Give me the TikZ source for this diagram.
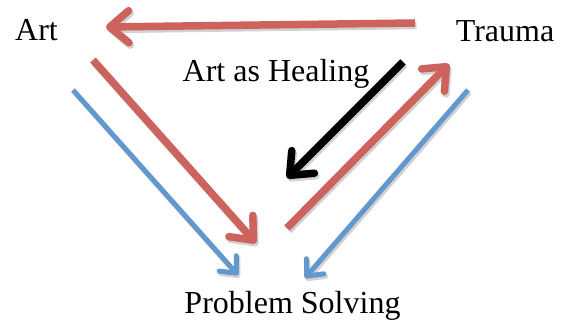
\documentclass[tikz,border=0pt]{standalone}
\usepackage{fontspec}
\setmainfont{Liberation Serif}
\usetikzlibrary{arrows.meta}
\definecolor{redA}{RGB}{204,99,93}
\definecolor{blueA}{RGB}{99,152,206}
\tikzset{
  lbl/.style={inner sep=0pt, anchor=base, font=\fontsize{32}{36}\selectfont},
  thick arrow/.style={line width=7.5pt, line cap=butt,
     -{Straight Barb[length=19pt, width=32pt, line cap=round, line join=round]}},
  thin arrow/.style={line width=5pt, line cap=butt,
     -{Straight Barb[length=13pt, width=23pt, line cap=round, line join=round]}},
  shadow/.style={draw=black, opacity=0.18, transform canvas={shift={(1.5pt,-2.5pt)}}}
}
\begin{document}
\begin{tikzpicture}[x=1pt,y=1pt]
\useasboundingbox (0,0) rectangle (561,321);
% labels
\node[lbl] (art) at (36.5,280) {Art};
\node[lbl] (trauma) at (505,279) {Trauma};
\node[lbl] (heal) at (276,239) {Art as Healing};
\node[lbl] (ps) at (292.5,8) {Problem Solving};
% arrow endpoints
\coordinate (h1) at (415,298); \coordinate (h2) at (106,294);
\coordinate (r1) at (93,261);  \coordinate (r2) at (256,78);
\coordinate (b1) at (73,231);  \coordinate (b2) at (238,46);
\coordinate (k1) at (403,259); \coordinate (k2) at (287,143);
\coordinate (q1) at (287,93);  \coordinate (q2) at (449,257);
\coordinate (c1) at (468,231); \coordinate (c2) at (305,43);
% shadows
\draw[thick arrow, shadow] (h1) -- (h2);
\draw[thick arrow, shadow] (r1) -- (r2);
\draw[thin arrow, shadow] (b1) -- (b2);
\draw[thick arrow, shadow] (k1) -- (k2);
\draw[thick arrow, shadow] (q1) -- (q2);
\draw[thin arrow, shadow] (c1) -- (c2);
% arrows
\draw[thick arrow, draw=redA] (h1) -- (h2);
\draw[thick arrow, draw=redA] (r1) -- (r2);
\draw[thin arrow, draw=blueA] (b1) -- (b2);
\draw[thick arrow, draw=black] (k1) -- (k2);
\draw[thick arrow, draw=redA] (q1) -- (q2);
\draw[thin arrow, draw=blueA] (c1) -- (c2);
\end{tikzpicture}
\end{document}
